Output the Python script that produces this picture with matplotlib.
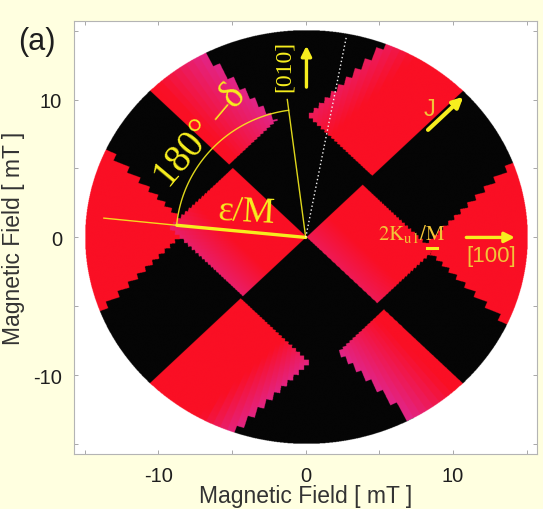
import numpy as np
import matplotlib
matplotlib.use("Agg")
import matplotlib.pyplot as plt
from matplotlib.colors import to_rgb

plt.rcParams["mathtext.fontset"] = "stix"

# ---- field map definition -------------------------------------------------
# Field magnitude range of the sweep (mT) and angular sampling of the sweep.
R_MAX = 15.0
ANG_STEP_DEG = 2.0
ANG_OFFSET_DEG = 45.0

# Switching boundaries, expressed in rotated coordinates
#   p = Hx + Hy  (along [110]),  q = Hy - Hx  (along [-110])
# Each quadrant of (p, q) holds one central cell and the outer bands.
Q1_R4_P, Q1_R4_Q = 8.9, 8.7        # p>0, q>0 : red cell towards J
Q1_R1_Q, Q1_R1_P = 10.5, 6.4       # p>0, q>0 : red cell near [010]
Q2_R3_P, Q2_R3_Q = -8.6, 10.0      # p<0, q>0 : central red cell
Q2_UL_P = -7.2                     # p<0, q>0 : upper-left black band
Q2_LL_Q = 8.6                      # p<0, q>0 : lower-left black band
Q3_R6_P, Q3_R6_Q = -8.9, -9.3      # p<0, q<0 : lower-left red cell
Q3_R7_Q, Q3_R7_P = -10.5, -6.2     # p<0, q<0 : lower red cell
Q4_R5_P, Q4_R5_Q = 7.6, -9.6       # p>0, q<0 : central red cell
Q4_UR_Q = -8.6                     # p>0, q<0 : upper-right black band
Q4_LR_P = 7.25                     # p>0, q<0 : lower-right black band

# magenta shading of red cells next to stepped switching lines:
# (cell, coordinate, edge value, decay length, strength)
PINK_RULES = [
    ("r1", "p", Q1_R1_P, 5.5, 0.80),
    ("r7", "p", Q3_R7_P, 5.0, 0.80),
    ("r6", "q", Q3_R6_Q, 3.5, 0.75),
    ("r4", "q", Q1_R4_Q, 3.0, 0.45),
    ("r5", "p", 0.0, 3.0, 0.40),
    ("r3", "p", Q2_R3_P, 3.5, 0.55),
]

RED = np.array(to_rgb("#fa0f24"))
MAGENTA = np.array(to_rgb("#dc2aa0"))
BLACK = np.array(to_rgb("#050505"))
YEL = "#f7ee1e"
GOLD = "#f2c437"


def field_cells(p, q):
    q1 = (p >= 0) & (q >= 0)
    q2 = (p < 0) & (q >= 0)
    q3 = (p < 0) & (q < 0)
    q4 = (p >= 0) & (q < 0)
    c = {}
    c["r4"] = q1 & (p > Q1_R4_P) & (q < Q1_R4_Q)
    c["r1"] = q1 & (q > Q1_R1_Q) & (p < Q1_R1_P)
    c["r3"] = q2 & (p > Q2_R3_P) & (q < Q2_R3_Q)
    ul = q2 & ~c["r3"] & (q >= Q2_R3_Q) & (p > Q2_UL_P)
    ll = q2 & ~c["r3"] & (p <= Q2_R3_P) & (q < Q2_LL_Q)
    c["r2"] = q2 & ~c["r3"] & ~ul & ~ll
    c["r6"] = q3 & (p < Q3_R6_P) & (q > Q3_R6_Q)
    c["r7"] = q3 & (q < Q3_R7_Q) & (p > Q3_R7_P)
    c["r5"] = q4 & (p < Q4_R5_P) & (q > Q4_R5_Q)
    ur = q4 & ~c["r5"] & (p >= Q4_R5_P) & (q > Q4_UR_Q)
    lr = q4 & ~c["r5"] & (q <= Q4_R5_Q) & (p < Q4_LR_P)
    c["r8"] = q4 & ~c["r5"] & ~ur & ~lr
    return c


# sample the map on the polar sweep grid (angle quantised, radius continuous)
n = 1100
g = np.linspace(-R_MAX, R_MAX, n)
X, Y = np.meshgrid(g, g)
rad = np.hypot(X, Y)
theta = np.arctan2(Y, X)
step = np.deg2rad(ANG_STEP_DEG)
off = np.deg2rad(ANG_OFFSET_DEG)
theta_c = (np.floor((theta - off) / step) + 0.5) * step + off
Xs, Ys = rad * np.cos(theta_c), rad * np.sin(theta_c)
P, Q = Xs + Ys, Ys - Xs

cells = field_cells(P, Q)
red_mask = np.zeros(P.shape, bool)
for m in cells.values():
    red_mask |= m
pink = np.zeros(P.shape)
for name, coord, edge, length, strength in PINK_RULES:
    v = P if coord == "p" else Q
    w = strength * np.clip(1 - np.abs(v - edge) / length, 0, 1)
    pink = np.where(cells[name], np.maximum(pink, w), pink)

rgb = np.where(red_mask[..., None],
               (1 - pink[..., None]) * RED + pink[..., None] * MAGENTA,
               BLACK)
rgba = np.dstack([rgb, (rad <= R_MAX).astype(float)])

# ---- figure ----------------------------------------------------------------
fig = plt.figure(figsize=(5.43, 5.10), dpi=100, facecolor="#ffffe0")
ax = fig.add_axes([0.137, 0.108, 0.852, 0.849])
ax.set_facecolor("white")
ax.imshow(rgba, extent=(-R_MAX, R_MAX, -R_MAX, R_MAX), origin="lower",
          interpolation="antialiased", aspect="auto", zorder=1)

ax.set_xlim(-15.7, 15.7)
ax.set_ylim(-15.7, 15.7)
ticks = [-15, -10, -5, 0, 5, 10, 15]
labels = ["", "-10", "", "0", "", "10", ""]
ax.set_xticks(ticks, labels)
ax.set_yticks(ticks, labels)
ax.tick_params(direction="in", length=3, width=0.6, color="#9a9a9a",
               top=True, right=True, labelsize=14.5, labelcolor="#1e1e1e")
ax.tick_params(axis="x", pad=9)
ax.tick_params(axis="y", pad=9)
for lab in ax.get_xticklabels() + ax.get_yticklabels():
    lab.set_family("Liberation Sans")
for s in ax.spines.values():
    s.set_color("#b4b4b4")
    s.set_linewidth(0.8)

ax.set_xlabel("Magnetic Field [ mT ]", fontsize=16.5, color="#333333",
              family="Liberation Sans", labelpad=-1)
ax.set_ylabel("Magnetic Field [ mT ]", fontsize=16.5, color="#333333",
              family="Liberation Sans", labelpad=6)

# ---- angle construction ----------------------------------------------------
ax.plot([0, -8.75], [0, 0.88], color=YEL, lw=2.4, solid_capstyle="round", zorder=3)
ax.plot([-8.75, -13.7], [0.88, 1.4], color=YEL, lw=1.0, alpha=0.9, zorder=3)
ax.plot([0, -1.25], [0, 10.0], color=YEL, lw=1.0, alpha=0.9, zorder=3)
phi = np.linspace(np.deg2rad(97.6), np.deg2rad(174.5), 120)
ax.plot(8.8 * np.cos(phi), 9.3 * np.sin(phi), color=YEL, lw=1.0, alpha=0.9, zorder=3)
ax.plot([0, 2.75], [0, 14.5], color="#f2f2f2", lw=1.0, ls=(0, (1, 1.8)), zorder=3)

serif = "Liberation Serif"
ax.text(-7.15, 7.4, "180° –δ", rotation=50, fontsize=28, family=serif,
        color=YEL, ha="center", va="center", rotation_mode="anchor", zorder=4)
ax.text(-4.0, 1.85, "ε/M", rotation=-3, fontsize=26, family=serif,
        color=YEL, ha="center", va="center", rotation_mode="anchor", zorder=4)

# crystal axes and current direction
arrow_kw = dict(arrowstyle="-|>", color=YEL, lw=2.4, mutation_scale=15,
                shrinkA=0, shrinkB=0)
ax.annotate("", xy=(0.05, 13.9), xytext=(0.05, 10.9), arrowprops=arrow_kw, zorder=4)
ax.text(-1.43, 12.5, "[010]", rotation=90, fontsize=17, family=serif,
        color=YEL, ha="center", va="center", zorder=4)
ax.annotate("", xy=(10.7, 10.2), xytext=(8.3, 7.8),
            arrowprops=dict(arrow_kw, lw=3.0), zorder=4)
ax.text(8.4, 9.3, "J", fontsize=17, family="Liberation Sans", color=GOLD,
        ha="center", va="center", zorder=4)
ax.annotate("", xy=(14.2, 0.0), xytext=(10.9, 0.0), arrowprops=arrow_kw, zorder=4)
ax.text(12.6, -1.3, "[100]", fontsize=16, family="Liberation Sans", color=GOLD,
        ha="center", va="center", zorder=4)
ax.text(7.2, 0.3, r"$\mathrm{2K_{u1}/M}$", fontsize=15, color=GOLD,
        ha="center", va="center", zorder=4)
ax.plot([8.2, 8.9], [-0.8, -0.8], color=YEL, lw=2.2, zorder=4)

fig.text(37 / 543, 1 - 42 / 510, "(a)", fontsize=22, family="Liberation Sans",
         color="#1e1e1e", ha="center", va="center")

fig.savefig("out.png", dpi=100, facecolor=fig.get_facecolor())
